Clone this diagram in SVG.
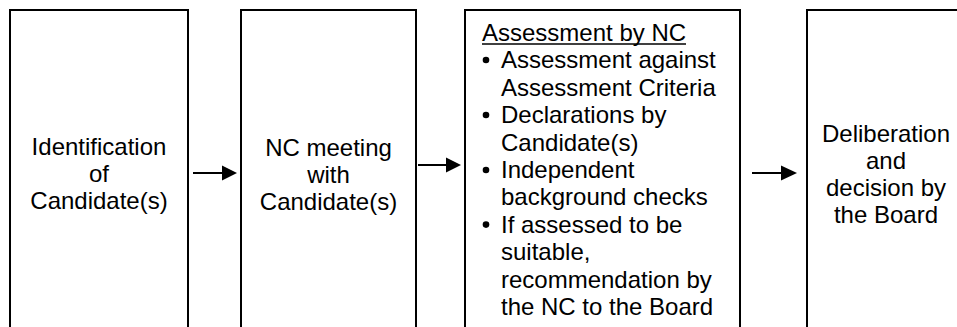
<svg xmlns="http://www.w3.org/2000/svg" width="957" height="327" viewBox="0 0 957 327">
<style>
.box{fill:#fff;stroke:#000;stroke-width:2}
.t{font-family:"Liberation Sans",Arial,sans-serif;font-size:24px;fill:#000}
.c{text-anchor:middle}
.ln{stroke:#000;stroke-width:2;fill:none}
.ah{fill:#000}
</style>
<rect width="957" height="327" fill="#fff"/>
<g id="node-identification">
<rect class="box" x="10" y="10" width="178" height="340"/>
<text class="t c" x="99" y="155">Identification</text>
<text class="t c" x="99" y="182">of</text>
<text class="t c" x="99" y="209">Candidate(s)</text>
</g>
<g id="node-meeting">
<rect class="box" x="241" y="10" width="175" height="340"/>
<text class="t c" x="328.5" y="156">NC meeting</text>
<text class="t c" x="328.5" y="183">with</text>
<text class="t c" x="328.5" y="210">Candidate(s)</text>
</g>
<g id="node-assessment">
<rect class="box" x="465" y="10" width="275" height="340"/>
<text class="t" x="482" y="41">Assessment by NC</text>
<line x1="482" y1="44" x2="686" y2="44" stroke="#000" stroke-width="1.6"/>
<circle cx="486" cy="60" r="3.3"/>
<text class="t" x="501" y="68.4">Assessment against</text>
<text class="t" x="501" y="95.8">Assessment Criteria</text>
<circle cx="486" cy="115" r="3.3"/>
<text class="t" x="501" y="123.2">Declarations by</text>
<text class="t" x="501" y="150.6">Candidate(s)</text>
<circle cx="486" cy="170" r="3.3"/>
<text class="t" x="501" y="178">Independent</text>
<text class="t" x="501" y="205.4">background checks</text>
<circle cx="486" cy="224.6" r="3.3"/>
<text class="t" x="501" y="232.8">If assessed to be</text>
<text class="t" x="501" y="260.2">suitable,</text>
<text class="t" x="501" y="287.6">recommendation by</text>
<text class="t" x="501" y="315">the NC to the Board</text>
</g>
<g id="node-board">
<rect class="box" x="807" y="10" width="160" height="340"/>
<text class="t c" x="886" y="142">Deliberation</text>
<text class="t c" x="886" y="169">and</text>
<text class="t c" x="886" y="196">decision by</text>
<text class="t c" x="886" y="223">the Board</text>
</g>
<g id="connectors">
<line class="ln" x1="193" y1="173" x2="223" y2="173"/>
<polygon class="ah" points="222,165.5 237,173 222,180.5"/>
<line class="ln" x1="418" y1="165" x2="447" y2="165"/>
<polygon class="ah" points="446,157.5 461,165 446,172.5"/>
<line class="ln" x1="752" y1="173" x2="782" y2="173"/>
<polygon class="ah" points="781,165.5 797,173 781,180.5"/>
</g>
</svg>
